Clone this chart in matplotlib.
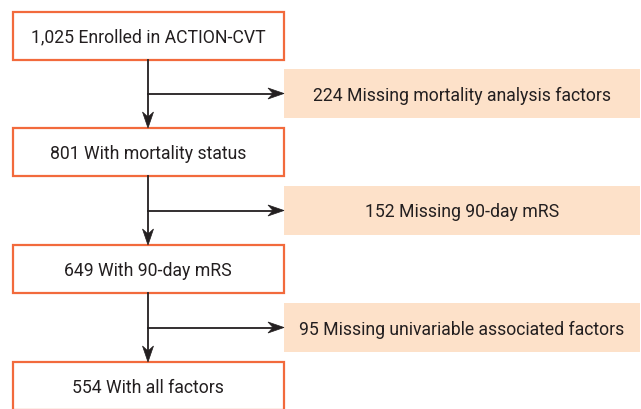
import matplotlib.pyplot as plt
from matplotlib.patches import Rectangle, Polygon

# textos do fluxograma
caixas_principais = ["1,025 Enrolled in ACTION-CVT", "801 With mortality status",
                     "649 With 90-day mRS", "554 With all factors"]
caixas_exclusao = ["224 Missing mortality analysis factors", "152 Missing 90-day mRS",
                   "95 Missing univariable associated factors"]

laranja = "#F26A3C"
pessego = "#FDE1C9"
texto = "#231F20"

fig = plt.figure(figsize=(6.41, 4.10), dpi=100)
ax = fig.add_axes([0, 0, 1, 1])
ax.set_xlim(0, 641)
ax.set_ylim(410, 0)
ax.axis("off")

plt.rcParams['font.family'] = ['Roboto', 'DejaVu Sans']

# layout (em pixels)
x0, x1 = 12.5, 284
topo_principal = [12.5, 129, 246, 363]
altura = 48
xs0, xs1 = 284, 640
topo_exclusao = [70, 187, 304]
altura_exc = 49
x_linha = 148
tam_fonte = 12.7


def ponta(x, y, direcao):
    """Ponta de seta tipo 'stealth' com a ponta em (x, y)."""
    c, l, r = 16, 5.5, 5  # comprimento, meia largura, recuo
    if direcao == "baixo":
        pts = [(x, y), (x - l, y - c), (x, y - c + r), (x + l, y - c)]
    else:
        pts = [(x, y), (x - c, y - l), (x - c + r, y), (x - c, y + l)]
    ax.add_patch(Polygon(pts, closed=True, facecolor=texto, edgecolor=texto,
                         linewidth=0.5, zorder=3))


for topo, rotulo in zip(topo_principal, caixas_principais):
    ax.add_patch(Rectangle((x0, topo), x1 - x0, altura, facecolor="white",
                           edgecolor=laranja, linewidth=1.6))
    ax.text((x0 + x1) / 2, topo + altura / 2 + 1, rotulo, ha="center", va="center",
            fontsize=tam_fonte, color=texto)

for topo, rotulo in zip(topo_exclusao, caixas_exclusao):
    ax.add_patch(Rectangle((xs0, topo), xs1 - xs0, altura_exc, facecolor=pessego,
                           edgecolor="none"))
    ax.text((xs0 + xs1) / 2, topo + altura_exc / 2 + 1, rotulo, ha="center", va="center",
            fontsize=tam_fonte, color=texto)

# setas
for i in range(3):
    y_ini = topo_principal[i] + altura
    y_fim = topo_principal[i + 1]
    ax.plot([x_linha, x_linha], [y_ini, y_fim - 8], color=texto, linewidth=1.3)
    ponta(x_linha, y_fim, "baixo")
    y_seta = topo_exclusao[i] + altura_exc / 2
    ax.plot([x_linha, xs0 - 8], [y_seta, y_seta], color=texto, linewidth=1.3)
    ponta(xs0, y_seta, "direita")

fig.savefig("out.png", dpi=100)
